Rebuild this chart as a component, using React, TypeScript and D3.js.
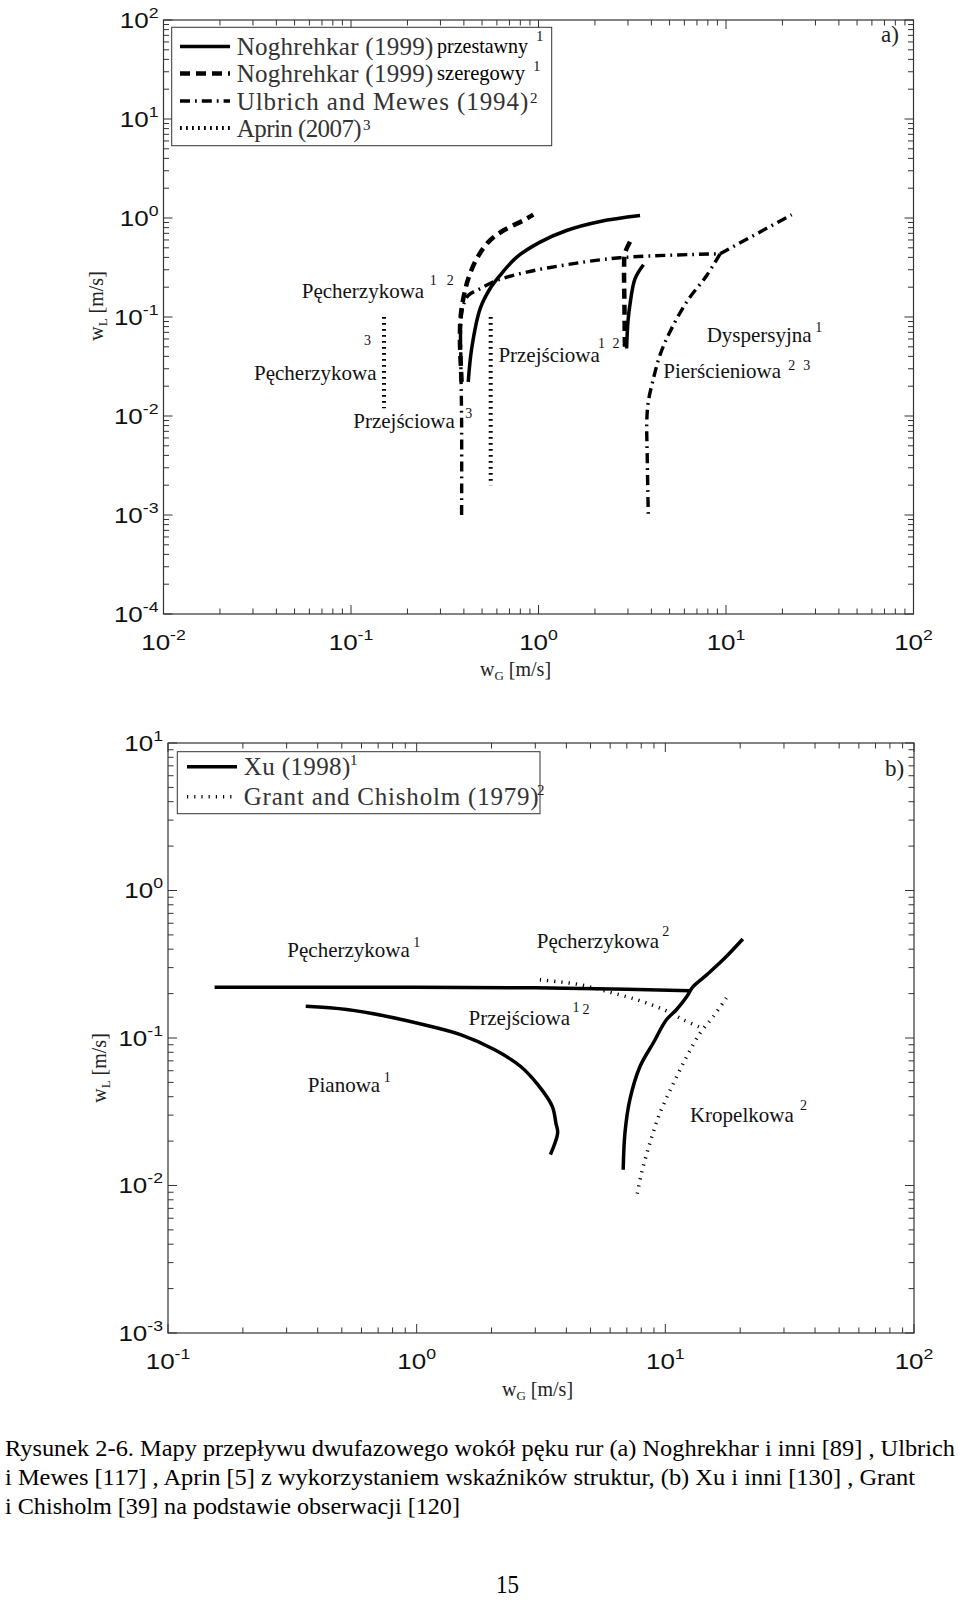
import * as d3 from "d3";

type P = [number, number];

const SERIF = "'Liberation Serif', 'Times New Roman', serif";
const SANS = "'Liberation Sans', Arial, sans-serif";

// panel (a): decades on each axis
const aDecX = [-2, -1, 0, 1, 2];
const aDecY = [-4, -3, -2, -1, 0, 1, 2];

// Noghrehkar (1999) przestawny (staggered) — solid
const nogStag1: P[] = [[0.422, 0.0221], [0.44, 0.0479], [0.488, 0.121], [0.551, 0.193], [0.623, 0.263], [0.766, 0.403], [1.02, 0.571], [1.41, 0.748], [2.13, 0.923], [3.48, 1.06]];
const nogStag2: P[] = [[2.95, 0.048], [3.0, 0.09], [3.07, 0.131], [3.27, 0.243], [3.63, 0.337]];
// Noghrehkar (1999) szeregowy (inline) — dashed
const nogInl1: P[] = [[0.389, 0.0221], [0.381, 0.06], [0.385, 0.104], [0.397, 0.153], [0.422, 0.243], [0.468, 0.387], [0.54, 0.571], [0.649, 0.748], [0.83, 0.944], [0.938, 1.08]];
const nogInl2: P[] = [[2.89, 0.05], [2.87, 0.15], [2.86, 0.3], [2.88, 0.42], [2.95, 0.489], [3.14, 0.617]];
// Ulbrich and Mewes (1994) — dash-dot
const ulbBubble: P[] = [[0.389, 0.001], [0.389, 0.0087], [0.385, 0.041], [0.385, 0.089], [0.397, 0.131], [0.422, 0.165], [0.488, 0.193], [0.598, 0.234], [0.865, 0.284], [1.41, 0.337], [2.72, 0.397], [9.3, 0.435]];
const ulbDisp: P[] = [[9.3, 0.435], [22.4, 1.08]];
const ulbAnnular: P[] = [[9.3, 0.435], [7.89, 0.263], [6.17, 0.142], [5.02, 0.0706], [4.44, 0.041], [4.1, 0.0238], [3.85, 0.0139], [3.78, 0.0087], [3.8, 0.004], [3.85, 0.001]];
// Aprin (2007) — dotted
const aprinBubble: P[] = [[0.15, 0.1], [0.15, 0.012]];
const aprinInter: P[] = [[0.556, 0.1], [0.556, 0.002]];

// panel (b)
const bDecX = [-1, 0, 1, 2];
const bDecY = [-3, -2, -1, 0, 1];

// Xu (1998) — solid
const xuBubble: P[] = [[0.154, 0.221], [1, 0.221], [3, 0.219], [7, 0.214], [12.6, 0.209]];
const xuFoam: P[] = [[0.358, 0.164], [0.523, 0.156], [0.762, 0.14], [1.07, 0.123], [1.51, 0.105], [2.06, 0.0832], [2.62, 0.0641], [3.11, 0.047], [3.51, 0.0344], [3.63, 0.0265], [3.69, 0.0227], [3.45, 0.0162]];
const xuDrop: P[] = [[6.77, 0.0128], [6.88, 0.0227], [7.2, 0.0382], [7.91, 0.0641], [8.94, 0.0925], [10.1, 0.133], [11.1, 0.156], [12.2, 0.191], [12.9, 0.222], [14.7, 0.269], [17.1, 0.34], [20.5, 0.469]];
// Grant and Chisholm (1979) — dotted
const grantBubble: P[] = [[3.13, 0.248], [4.54, 0.23], [5.81, 0.207], [7.67, 0.182], [9.82, 0.156], [11.8, 0.133], [14.0, 0.117]];
const grantDrop: P[] = [[17.6, 0.187], [15.6, 0.14], [13.8, 0.108], [12.2, 0.075], [10.8, 0.0496], [9.51, 0.031], [8.67, 0.0194], [8.03, 0.0122], [7.67, 0.0084]];

const caption = [
  "Rysunek 2-6. Mapy przepływu dwufazowego wokół pęku rur (a) Noghrekhar i inni [89] , Ulbrich",
  "i Mewes [117] , Aprin [5] z wykorzystaniem wskaźników struktur, (b) Xu i inni [130] , Grant",
  "i Chisholm [39] na podstawie obserwacji [120]",
];
const captionWidths = [950, 910, 455];

const STY = {
  solid: { w: 3.5, dash: undefined as string | undefined },
  dashed: { w: 4.5, dash: "10,6" },
  dashdot: { w: 3.4, dash: "10,5,1.8,5" },
  dotA: { w: 4, dash: "1.8,4.2" },
  dotB: { w: 3.5, dash: "1.2,6" },
};
type StyKey = keyof typeof STY;

const xa = d3.scaleLog().domain([1e-2, 1e2]).range([163.5, 913.5]);
const ya = d3.scaleLog().domain([1e-4, 1e2]).range([614, 20]);
const xb = d3.scaleLog().domain([1e-1, 1e2]).range([168, 914]);
const yb = d3.scaleLog().domain([1e-3, 1e1]).range([1333, 743]);

type S = d3.ScaleLogarithmic<number, number>;

function minors(decs: number[]) {
  const out: number[] = [];
  for (let i = 0; i < decs.length - 1; i++)
    for (let m = 2; m <= 9; m++) out.push(m * 10 ** decs[i]);
  return out;
}

function Pow({ x, y, e, anchor }: { x: number; y: number; e: number; anchor: "middle" | "end" }) {
  return (
    <g transform={`translate(${x},${y}) scale(1.18,1)`}>
      <text textAnchor={anchor} fontFamily={SANS} fontSize={22} fill="#111">
        10<tspan dy={-10} fontSize={15}>{e < 0 ? `-${-e}` : `${e}`}</tspan>
      </text>
    </g>
  );
}

function Frame({ x, y, decX, decY }: { x: S; y: S; decX: number[]; decY: number[] }) {
  const [x0, x1] = x.range();
  const [y0, y1] = y.range(); // y0 bottom, y1 top
  const maj = 9;
  const min = 5.5;
  const st = { stroke: "#333", strokeWidth: 1 };
  return (
    <g>
      {minors(decX).map((v, i) => (
        <g key={"mx" + i}>
          <line x1={x(v)} x2={x(v)} y1={y0} y2={y0 - min} {...st} />
          <line x1={x(v)} x2={x(v)} y1={y1} y2={y1 + min} {...st} />
        </g>
      ))}
      {decX.map((d) => (
        <g key={"Mx" + d}>
          <line x1={x(10 ** d)} x2={x(10 ** d)} y1={y0} y2={y0 - maj} {...st} />
          <line x1={x(10 ** d)} x2={x(10 ** d)} y1={y1} y2={y1 + maj} {...st} />
          <Pow x={x(10 ** d)} y={y0 + 36} e={d} anchor="middle" />
        </g>
      ))}
      {minors(decY).map((v, i) => (
        <g key={"my" + i}>
          <line y1={y(v)} y2={y(v)} x1={x0} x2={x0 + min} {...st} />
          <line y1={y(v)} y2={y(v)} x1={x1} x2={x1 - min} {...st} />
        </g>
      ))}
      {decY.map((d) => (
        <g key={"My" + d}>
          <line y1={y(10 ** d)} y2={y(10 ** d)} x1={x0} x2={x0 + maj} {...st} />
          <line y1={y(10 ** d)} y2={y(10 ** d)} x1={x1} x2={x1 - maj} {...st} />
          <Pow x={x0 - 5} y={y(10 ** d) + 7.5} e={d} anchor="end" />
        </g>
      ))}
      <rect x={x0} y={y1} width={x1 - x0} height={y0 - y1} fill="none" stroke="#333" strokeWidth={1.2} />
    </g>
  );
}

function Curve({ pts, x, y, s, smooth = true }: { pts: P[]; x: S; y: S; s: StyKey; smooth?: boolean }) {
  const line = d3
    .line<P>()
    .x((d) => x(d[0]))
    .y((d) => y(d[1]))
    .curve(smooth ? d3.curveCatmullRom.alpha(0.5) : d3.curveLinear);
  const st = STY[s];
  return <path d={line(pts) ?? ""} fill="none" stroke="#000" strokeWidth={st.w} strokeDasharray={st.dash} />;
}

function Lbl({ x, y, text, sups }: { x: number; y: number; text: string; sups?: [string, number, number][] }) {
  return (
    <g fontFamily={SERIF} fill="#111">
      <text x={x} y={y} fontSize={21}>{text}</text>
      {(sups ?? []).map(([t, dx, dy], i) => (
        <text key={i} x={x + dx} y={y + dy} fontSize={14}>{t}</text>
      ))}
    </g>
  );
}

function LegendRow({ y, s, main, len, extra, extraLen, sup, supX, supDy }: { y: number; s: StyKey; main: string; len: number; extra?: string; extraLen?: number; sup: string; supX: number; supDy: number }) {
  const st = STY[s];
  const x0 = y < 400 ? 180 : 187;
  return (
    <g>
      <line x1={x0} x2={x0 + 50} y1={y} y2={y} stroke="#000" strokeWidth={st.w} strokeDasharray={st.dash} />
      <text x={x0 + 56.7} y={y + 8.5} fontFamily={SERIF} fontSize={25} fill="#333" textLength={len} lengthAdjust="spacing">{main}</text>
      {extra && (
        <text x={437} y={y + 6} fontFamily={SERIF} fontSize={21} fill="#000" textLength={extraLen} lengthAdjust="spacingAndGlyphs">{extra}</text>
      )}
      <text x={supX} y={y + supDy} fontFamily={SERIF} fontSize={15} fill="#222">{sup}</text>
    </g>
  );
}

function AxisTitle({ x, y, sub, rotate }: { x: number; y: number; sub: string; rotate?: boolean }) {
  return (
    <text
      transform={rotate ? `translate(${x},${y}) rotate(-90)` : `translate(${x},${y})`}
      textAnchor={rotate ? "middle" : "start"}
      fontFamily={SERIF}
      fontSize={20}
      fill="#222"
    >
      w<tspan dy={4} fontSize={13}>{sub}</tspan><tspan dy={-4}> [m/s]</tspan>
    </text>
  );
}

export default function App() {
  return (
    <svg width={960} height={1601} style={{ position: "absolute", left: 0, top: 0, display: "block", background: "#fff" }}>
      <rect width={960} height={1601} fill="#fff" />

      {/* ---------- panel (a) ---------- */}
      <Frame x={xa} y={ya} decX={aDecX} decY={aDecY} />
      <Curve pts={nogStag1} x={xa} y={ya} s="solid" />
      <Curve pts={nogStag2} x={xa} y={ya} s="solid" />
      <Curve pts={nogInl1} x={xa} y={ya} s="dashed" />
      <Curve pts={nogInl2} x={xa} y={ya} s="dashed" />
      <Curve pts={ulbBubble} x={xa} y={ya} s="dashdot" />
      <Curve pts={ulbDisp} x={xa} y={ya} s="dashdot" smooth={false} />
      <Curve pts={ulbAnnular} x={xa} y={ya} s="dashdot" />
      <Curve pts={aprinBubble} x={xa} y={ya} s="dotA" smooth={false} />
      <Curve pts={aprinInter} x={xa} y={ya} s="dotA" smooth={false} />

      <Lbl x={xa(0.0546)} y={ya(0.1545)} text="Pęcherzykowa" sups={[["1", 128, -13], ["2", 145, -13]]} />
      <Lbl x={xa(0.0304)} y={ya(0.0231)} text="Pęcherzykowa" sups={[["3", 110, -35]]} />
      <Lbl x={xa(0.1028)} y={ya(0.0075)} text="Przejściowa" sups={[["3", 112, -10]]} />
      <Lbl x={xa(0.611)} y={ya(0.0354)} text="Przejściowa" sups={[["1", 99.5, -14], ["2", 114, -14]]} />
      <Lbl x={xa(7.89)} y={ya(0.0563)} text="Dyspersyjna" sups={[["1", 108.5, -10]]} />
      <Lbl x={xa(4.63)} y={ya(0.024)} text="Pierścieniowa" sups={[["2", 125, -8.5], ["3", 140, -8.5]]} />

      <text x={881} y={42} fontFamily={SERIF} fontSize={23} fill="#222">a)</text>

      <rect x={171.7} y={27.3} width={380} height={118.4} fill="#fff" stroke="#333" strokeWidth={1} />
      <LegendRow y={46.5} s="solid" main="Noghrehkar (1999)" len={196.6} extra="przestawny" extraLen={91} sup="1" supX={536} supDy={-6} />
      <LegendRow y={73.5} s="dashed" main="Noghrehkar (1999)" len={196.6} extra="szeregowy" extraLen={88} sup="1" supX={533} supDy={-3} />
      <LegendRow y={101} s="dashdot" main="Ulbrich and Mewes (1994)" len={291.6} sup="2" supX={530} supDy={2} />
      <LegendRow y={128} s="dotA" main="Aprin (2007)" len={125} sup="3" supX={363} supDy={2} />

      <AxisTitle x={480} y={676} sub="G" />
      <AxisTitle x={103} y={306} sub="L" rotate />

      {/* ---------- panel (b) ---------- */}
      <Frame x={xb} y={yb} decX={bDecX} decY={bDecY} />
      <Curve pts={xuBubble} x={xb} y={yb} s="solid" smooth={false} />
      <Curve pts={xuFoam} x={xb} y={yb} s="solid" />
      <Curve pts={xuDrop} x={xb} y={yb} s="solid" />
      <Curve pts={grantBubble} x={xb} y={yb} s="dotB" />
      <Curve pts={grantDrop} x={xb} y={yb} s="dotB" />

      <Lbl x={xb(0.302)} y={yb(0.352)} text="Pęcherzykowa" sups={[["1", 126, -10]]} />
      <Lbl x={xb(3.04)} y={yb(0.406)} text="Pęcherzykowa" sups={[["2", 125.5, -12.5]]} />
      <Lbl x={xb(1.617)} y={yb(0.1225)} text="Przejściowa" sups={[["1", 104, -13], ["2", 114, -11]]} />
      <Lbl x={xb(0.365)} y={yb(0.0433)} text="Pianowa" sups={[["1", 76, -9.5]]} />
      <Lbl x={xb(12.56)} y={yb(0.0271)} text="Kropelkowa" sups={[["2", 110, -11.5]]} />

      <text x={885} y={776} fontFamily={SERIF} fontSize={23} fill="#222">b)</text>

      <rect x={177.3} y={751.7} width={362.7} height={62} fill="#fff" stroke="#333" strokeWidth={1} />
      <LegendRow y={766.7} s="solid" main="Xu (1998)" len={106.6} sup="1" supX={350} supDy={-2} />
      <LegendRow y={796.7} s="dotB" main="Grant and Chisholm (1979)" len={295} sup="2" supX={537} supDy={-2} />

      <AxisTitle x={502} y={1396} sub="G" />
      <AxisTitle x={106} y={1068} sub="L" rotate />

      {/* ---------- caption ---------- */}
      {caption.map((t, i) => (
        <text
          key={i}
          x={5}
          y={1456 + i * 28.8}
          fontFamily={SERIF}
          fontSize={24}
          fill="#000"
          textLength={captionWidths[i]}
          lengthAdjust="spacingAndGlyphs"
        >
          {t}
        </text>
      ))}
      <text x={496} y={1593} fontFamily={SERIF} fontSize={26} fill="#000" textLength={23} lengthAdjust="spacingAndGlyphs">15</text>
    </svg>
  );
}
